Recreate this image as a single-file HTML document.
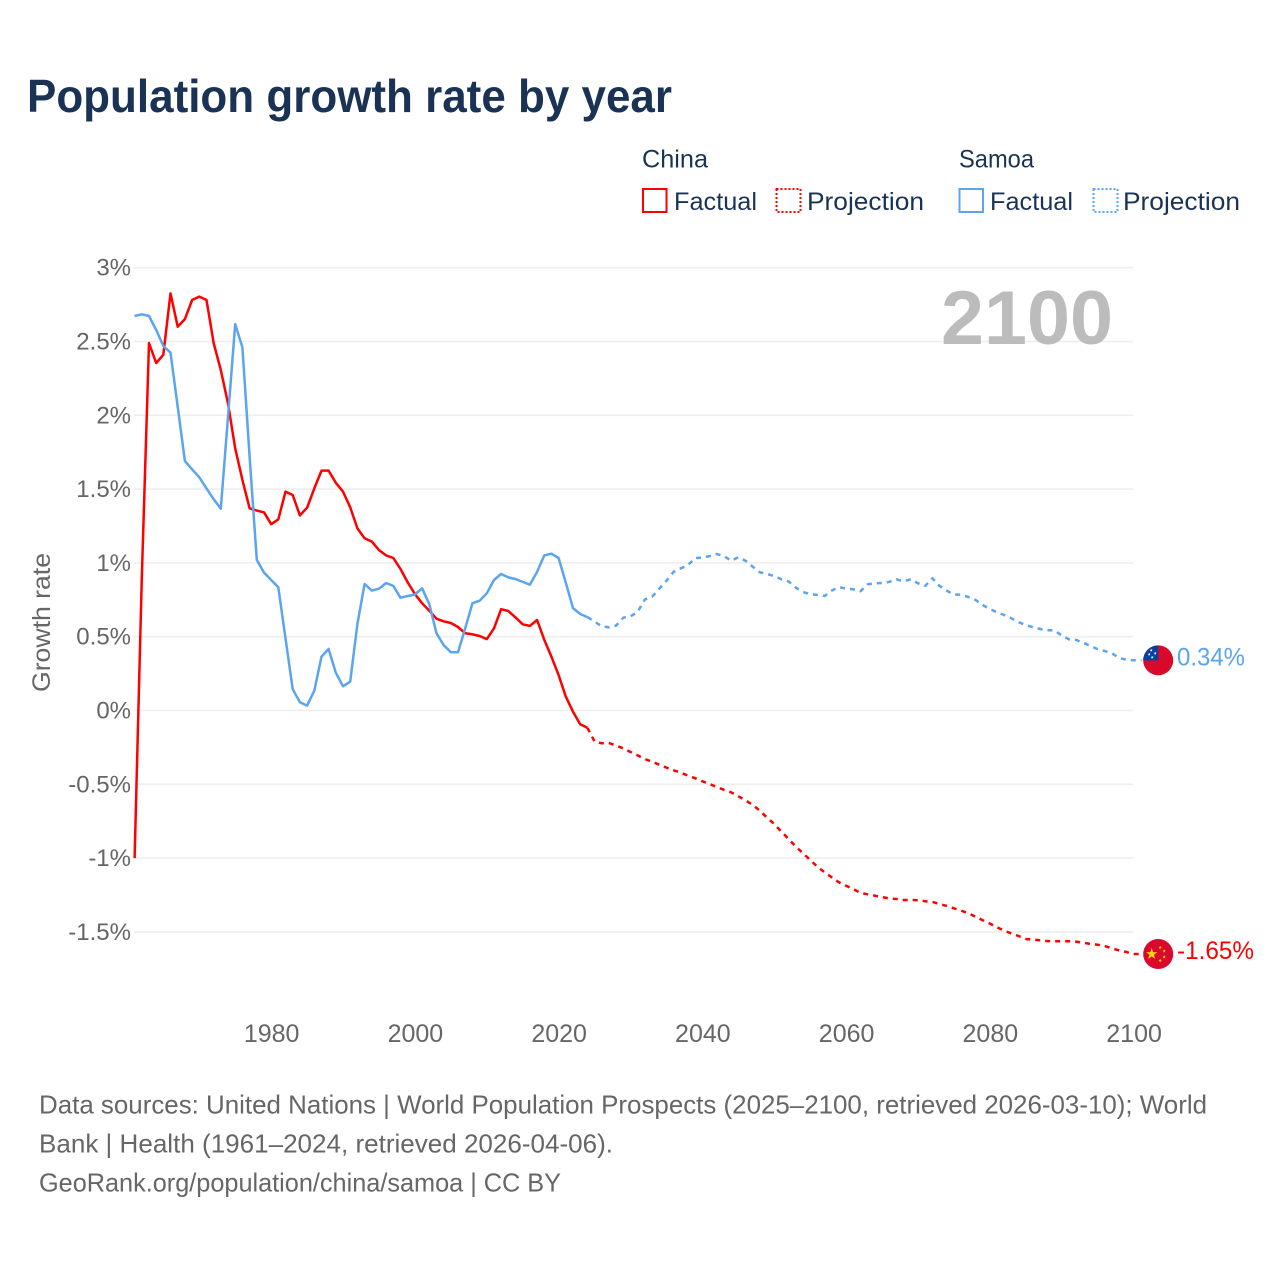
<!DOCTYPE html>
<html lang="en">
<head>
<meta charset="utf-8">
<title>Population growth rate by year</title>
<style>
html,body{margin:0;padding:0;background:#fff;width:1280px;height:1280px;overflow:hidden}
svg{display:block;font-family:"Liberation Sans",sans-serif}
</style>
</head>
<body>
<svg id="chart" xmlns="http://www.w3.org/2000/svg" width="1280" height="1280" viewBox="0 0 1280 1280">
  <rect width="1280" height="1280" fill="#fff"/>
  <text x="27" y="112" font-size="46" font-weight="700" fill="#1a3354" textLength="645" lengthAdjust="spacingAndGlyphs">Population growth rate by year</text>

  <g font-size="25" fill="#1a3354">
    <text x="642" y="167.5" textLength="66" lengthAdjust="spacingAndGlyphs">China</text>
    <text x="959" y="167.5" textLength="75" lengthAdjust="spacingAndGlyphs">Samoa</text>
    <g>
      <rect x="643" y="189" width="23.5" height="23" fill="none" stroke="#ff0000" stroke-width="2"/>
      <text x="674" y="210" textLength="83" lengthAdjust="spacingAndGlyphs">Factual</text>
    </g>
    <g>
      <rect x="776.5" y="189" width="24" height="23" fill="none" stroke="#ff0000" stroke-width="2" stroke-dasharray="2 2"/>
      <text x="807" y="210" textLength="117" lengthAdjust="spacingAndGlyphs">Projection</text>
    </g>
    <g>
      <rect x="959.5" y="189" width="23.5" height="23" fill="none" stroke="#5ba4ee" stroke-width="2"/>
      <text x="990" y="210" textLength="83" lengthAdjust="spacingAndGlyphs">Factual</text>
    </g>
    <g>
      <rect x="1093.5" y="189" width="24" height="23" fill="none" stroke="#5ba4ee" stroke-width="2" stroke-dasharray="2 2"/>
      <text x="1123" y="210" textLength="117" lengthAdjust="spacingAndGlyphs">Projection</text>
    </g>
  </g>

  <g id="grid"></g>
  <text x="941" y="344" font-size="76" font-weight="700" fill="#bcbcbc" textLength="172" lengthAdjust="spacingAndGlyphs">2100</text>
  <g id="yticks" font-size="24" fill="#666"></g>
  <g id="xticks" font-size="25" fill="#666"></g>
  <text transform="translate(50,692) rotate(-90)" font-size="25" fill="#666" textLength="139" lengthAdjust="spacingAndGlyphs">Growth rate</text>
  <g id="series" fill="none" stroke-width="2.5" stroke-linejoin="round"></g>
  <g id="ends"></g>

  <g font-size="26" fill="#666">
    <text x="39" y="1113.5" textLength="1168" lengthAdjust="spacingAndGlyphs">Data sources: United Nations | World Population Prospects (2025–2100, retrieved 2026-03-10); World</text>
    <text x="39" y="1152.5" textLength="574" lengthAdjust="spacingAndGlyphs">Bank | Health (1961–2024, retrieved 2026-04-06).</text>
    <text x="39" y="1191.5" textLength="522" lengthAdjust="spacingAndGlyphs">GeoRank.org/population/china/samoa | CC BY</text>
  </g>
</svg>
<script>
const firstFactualYear = 1961;
const firstProjectionYear = 2025;
const xTickYears = [1980, 2000, 2020, 2040, 2060, 2080, 2100];
const yTickValues = [3, 2.5, 2, 1.5, 1, 0.5, 0, -0.5, -1, -1.5];
const chinaFactual = [-1.0,0.9,2.49,2.354,2.41,2.826,2.6,2.652,2.781,2.804,2.781,2.488,2.307,2.08,1.776,1.562,1.37,1.354,1.343,1.262,1.295,1.483,1.46,1.322,1.374,1.505,1.625,1.625,1.543,1.483,1.377,1.234,1.167,1.144,1.087,1.051,1.033,0.959,0.868,0.789,0.726,0.676,0.622,0.604,0.593,0.566,0.523,0.516,0.505,0.484,0.557,0.686,0.674,0.631,0.584,0.573,0.613,0.478,0.365,0.24,0.094,-0.008,-0.093,-0.117];
const chinaProjection = [-0.211,-0.222,-0.22,-0.238,-0.256,-0.281,-0.304,-0.329,-0.347,-0.367,-0.387,-0.405,-0.421,-0.442,-0.459,-0.48,-0.498,-0.518,-0.537,-0.554,-0.581,-0.608,-0.64,-0.679,-0.726,-0.769,-0.821,-0.87,-0.923,-0.967,-1.013,-1.058,-1.096,-1.13,-1.164,-1.187,-1.21,-1.236,-1.245,-1.255,-1.264,-1.273,-1.277,-1.284,-1.284,-1.285,-1.293,-1.297,-1.311,-1.324,-1.34,-1.356,-1.374,-1.397,-1.421,-1.444,-1.469,-1.492,-1.51,-1.528,-1.548,-1.553,-1.557,-1.562,-1.564,-1.564,-1.564,-1.566,-1.573,-1.582,-1.587,-1.596,-1.612,-1.625,-1.636,-1.65];
const samoaFactual = [2.673,2.684,2.673,2.578,2.47,2.424,2.058,1.69,1.634,1.58,1.505,1.431,1.367,1.99,2.618,2.46,1.72,1.02,0.934,0.884,0.835,0.489,0.144,0.056,0.033,0.134,0.365,0.417,0.256,0.164,0.195,0.586,0.857,0.812,0.825,0.864,0.844,0.764,0.776,0.785,0.828,0.72,0.523,0.444,0.396,0.394,0.557,0.726,0.744,0.794,0.884,0.925,0.902,0.891,0.871,0.852,0.94,1.051,1.062,1.033,0.866,0.694,0.654,0.633];
const samoaProjection = [0.602,0.57,0.564,0.575,0.629,0.638,0.669,0.753,0.771,0.825,0.879,0.94,0.963,0.986,1.033,1.035,1.047,1.06,1.047,1.015,1.038,1.015,0.974,0.936,0.925,0.911,0.889,0.875,0.832,0.803,0.787,0.783,0.776,0.812,0.837,0.825,0.821,0.808,0.855,0.862,0.864,0.871,0.889,0.875,0.889,0.862,0.844,0.896,0.844,0.812,0.785,0.785,0.769,0.749,0.715,0.688,0.665,0.647,0.625,0.598,0.579,0.564,0.552,0.545,0.543,0.509,0.482,0.478,0.459,0.437,0.415,0.403,0.387,0.356,0.344,0.34];
const chinaEndLabel = '-1.65%';
const samoaEndLabel = '0.34%';

const NS = 'http://www.w3.org/2000/svg';
const RED = '#ff0000';
const BLUE = '#5ba4ee';
const xOf = function (year) { return 134.6 + (year - 1961) * 7.187; };
const yOf = function (v) { return 710.5 - v * 147.6; };
function make(tag, parent) {
  const el = document.createElementNS(NS, tag);
  parent.appendChild(el);
  return el;
}
const grid = document.getElementById('grid');
const yticks = document.getElementById('yticks');
const xticks = document.getElementById('xticks');
const seriesG = document.getElementById('series');
const ends = document.getElementById('ends');

yTickValues.forEach(function (v) {
  const line = make('line', grid);
  
  
  line.setAttribute('x1', 134);
  line.setAttribute('x2', 1133);
  line.setAttribute('y1', yOf(v));
  line.setAttribute('y2', yOf(v));
  line.setAttribute('stroke', '#eeeeee');
  line.setAttribute('stroke-width', 1.6);
  const t = make('text', yticks);
  
  
  t.setAttribute('x', 131);
  t.setAttribute('y', yOf(v) + 8);
  t.setAttribute('text-anchor', 'end');
  t.textContent = v + '%';
});
xTickYears.forEach(function (year) {
  const t = make('text', xticks);
  
  
  t.setAttribute('x', xOf(year) + 0.5);
  t.setAttribute('y', 1042);
  t.setAttribute('text-anchor', 'middle');
  t.textContent = year;
});

function pointList(values, startYear) {
  return values.map(function (v, i) {
    return xOf(startYear + i).toFixed(1) + ',' + yOf(v).toFixed(1);
  });
}
function drawSeries(name, color, factual, projection) {
  const solid = make('polyline', seriesG);
  
  
  solid.setAttribute('points', pointList(factual, firstFactualYear).join(' '));
  solid.setAttribute('stroke', color);
  const lastFactual = xOf(firstFactualYear + factual.length - 1).toFixed(1) + ',' + yOf(factual[factual.length - 1]).toFixed(1);
  const lastValue = projection[projection.length - 1];
  const tail = (xOf(firstProjectionYear + projection.length - 1) + 8).toFixed(1) + ',' + yOf(lastValue).toFixed(1);
  const dashed = make('polyline', seriesG);
  
  
  dashed.setAttribute('points', [lastFactual].concat(pointList(projection, firstProjectionYear), [tail]).join(' '));
  dashed.setAttribute('stroke', color);
  dashed.setAttribute('stroke-dasharray', '5 5');
}
drawSeries('china', RED, chinaFactual, chinaProjection);
drawSeries('samoa', BLUE, samoaFactual, samoaProjection);

function star(parent, cx, cy, r, fill) {
  const pts = [];
  for (let i = 0; i < 10; i++) {
    const rad = i % 2 ? r * 0.4 : r;
    const a = -Math.PI / 2 + i * Math.PI / 5;
    pts.push((cx + rad * Math.cos(a)).toFixed(2) + ',' + (cy + rad * Math.sin(a)).toFixed(2));
  }
  const p = make('polygon', parent);
  
  
  p.setAttribute('points', pts.join(' '));
  p.setAttribute('fill', fill);
}
const flagX = xOf(2100) + 24.6;

const chinaY = yOf(chinaProjection[chinaProjection.length - 1]);
const chinaFlag = make('g', ends);


chinaFlag.setAttribute('transform', 'translate(' + flagX + ',' + chinaY + ')');
const chinaDisc = make('circle', chinaFlag);


chinaDisc.setAttribute('r', 15);
chinaDisc.setAttribute('fill', '#d8092c');
star(chinaFlag, -6.5, 0, 6, '#fbd116');
star(chinaFlag, 2, -6.5, 1.9, '#fbd116');
star(chinaFlag, 6, -3, 1.9, '#fbd116');
star(chinaFlag, 6, 3, 1.9, '#fbd116');
star(chinaFlag, 2, 6.5, 1.9, '#fbd116');
const chinaLabel = make('text', ends);


chinaLabel.setAttribute('x', 1177);
chinaLabel.setAttribute('y', chinaY + 5);
chinaLabel.setAttribute('font-size', 25);
chinaLabel.setAttribute('fill', RED);
chinaLabel.setAttribute('textLength', 77);
chinaLabel.setAttribute('lengthAdjust', 'spacingAndGlyphs');
chinaLabel.textContent = chinaEndLabel;

const samoaY = yOf(samoaProjection[samoaProjection.length - 1]);
const samoaFlag = make('g', ends);


samoaFlag.setAttribute('transform', 'translate(' + flagX + ',' + samoaY + ')');
const samoaDisc = make('circle', samoaFlag);


samoaDisc.setAttribute('r', 15);
samoaDisc.setAttribute('fill', '#d8092c');
const samoaCanton = make('path', samoaFlag);


samoaCanton.setAttribute('d', 'M0,0 L-15,0 A15,15 0 0 1 0,-15 Z');
samoaCanton.setAttribute('fill', '#0b3f9e');
star(samoaFlag, -7, -10, 1.6, '#ffffff');
star(samoaFlag, -3, -7, 1.6, '#ffffff');
star(samoaFlag, -9, -6, 1.6, '#ffffff');
star(samoaFlag, -6, -3, 1.6, '#ffffff');
const samoaLabel = make('text', ends);


samoaLabel.setAttribute('x', 1177);
samoaLabel.setAttribute('y', samoaY + 5);
samoaLabel.setAttribute('font-size', 25);
samoaLabel.setAttribute('fill', BLUE);
samoaLabel.setAttribute('textLength', 68);
samoaLabel.setAttribute('lengthAdjust', 'spacingAndGlyphs');
samoaLabel.textContent = samoaEndLabel;
</script>
</body>
</html>
